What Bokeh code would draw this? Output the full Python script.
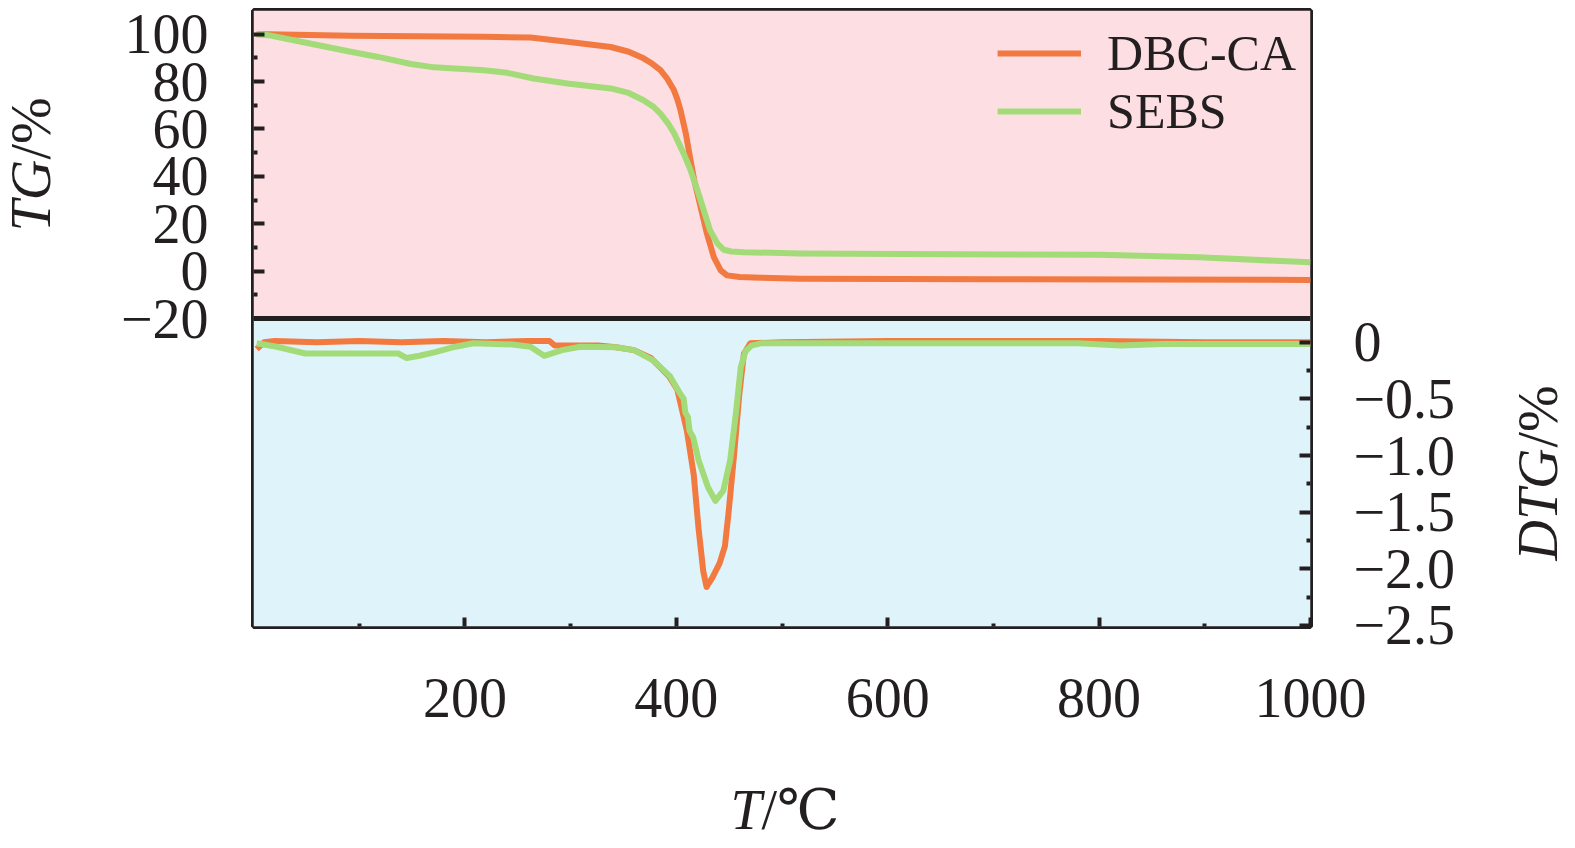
import math
from bokeh.plotting import figure
from bokeh.models import (Range1d, FixedTicker, CustomJSTickFormatter, Legend, LegendItem,
                          LinearAxis, BoxAnnotation, Span, Label)
from bokeh.embed import file_html
from bokeh.resources import INLINE

# ---------------- data ----------------
SERIES = ["DBC-CA", "SEBS"]

TG_T_DBC = [3, 14, 92, 218, 262, 297, 338, 355, 369, 377, 385, 391, 397.7, 401, 404, 409, 413.5,
            417, 423, 429, 435.5, 442, 448, 460, 480, 517, 700, 1000]
TG_DBC = [100.0, 100.0, 99.3, 98.9, 98.6, 96.8, 94.6, 92.6, 89.8, 87.6, 84.8, 81.5, 76.4, 72.5,
          67.9, 58.1, 46.8, 38.3, 27.0, 15.8, 5.9, 0.3, -1.8, -2.5, -2.8, -3.2, -3.4, -3.7]

TG_T_SEBS = [3, 14, 45, 92, 118, 149, 171, 218, 240, 265, 297, 338, 355, 369, 378, 385, 392, 398,
             407, 413.5, 420, 426, 432, 439, 445, 452, 464, 517, 612, 801, 895, 1000]
TG_SEBS = [100.0, 99.6, 96.8, 92.6, 90.4, 87.4, 86.0, 84.8, 83.7, 81.3, 79.2, 77.1, 75.2, 72.1,
           69.5, 66.5, 62.5, 58.1, 49.6, 42.6, 34.1, 25.7, 17.2, 11.6, 9.0, 8.3, 8.0, 7.4, 7.2,
           6.9, 5.8, 3.7]

DTG_T_DBC = [3, 10, 20, 60, 100, 140, 180, 220, 260, 280, 285, 290, 326, 343, 360, 376, 393,
             401, 410, 416.5, 421, 425.5, 428.6, 434, 441, 446, 449.5, 454.5, 459.5, 464, 470,
             500, 600, 700, 800, 900, 1000]
DTG_DBC = [-0.06, 0.0, 0.01, 0.0, 0.01, 0.0, 0.01, 0.0, 0.01, 0.01, -0.03, -0.03, -0.03, -0.045,
           -0.07, -0.14, -0.30, -0.42, -0.78, -1.17, -1.64, -2.02, -2.16, -2.08, -1.95, -1.80,
           -1.50, -1.01, -0.47, -0.10, -0.01, 0.0, 0.01, 0.01, 0.01, 0.0, 0.0]

DTG_T_SEBS = [3, 22, 49, 90, 137, 145, 157, 171, 191, 208, 245, 262, 275, 292, 309, 343, 360,
              378, 394, 404, 407, 408.5, 411, 412.5, 416, 421, 430, 437, 444.5, 451, 456.5, 461,
              465.5, 471, 480, 600, 700, 780, 820, 860, 1000]
DTG_SEBS = [-0.01, -0.04, -0.10, -0.10, -0.10, -0.14, -0.12, -0.09, -0.04, -0.01, -0.02, -0.04,
            -0.12, -0.07, -0.04, -0.045, -0.07, -0.16, -0.30, -0.46, -0.50, -0.62, -0.66, -0.78,
            -0.84, -1.04, -1.28, -1.40, -1.31, -1.04, -0.62, -0.22, -0.08, -0.03, -0.01, -0.01,
            -0.01, -0.01, -0.03, -0.015, -0.015]

X_TICKS = [200, 400, 600, 800, 1000]
X_LABELS = ["200", "400", "600", "800", "1000"]
X_MINOR = [100, 300, 500, 700, 900]

TG_TICKS = [-20, 0, 20, 40, 60, 80, 100]
TG_LABELS = ["\u221220", "0", "20", "40", "60", "80", "100"]
TG_MINOR = [-10, 10, 30, 50, 70, 90]

DTG_TICKS = [-2.5, -2.0, -1.5, -1.0, -0.5, 0]
DTG_LABELS = ["\u22122.5", "\u22122.0", "\u22121.5", "\u22121.0", "\u22120.5", "0"]
DTG_MINOR = [-2.25, -1.75, -1.25, -0.75, -0.25]

X_TITLE = ["T", "/\u2103"]     # italic symbol + upright unit
TG_TITLE = ["TG", "/%"]
DTG_TITLE = ["DTG", "/%"]

# ---------------- style / layout ----------------
FONT = "Liberation Serif, DejaVu Serif"
INK = "#231f20"
ORANGE = "#f27940"
GREEN = "#a3db79"
PINK = "#fcdee3"
CYAN = "#def4fa"
FS = "56px"

FL, FW, FT, FH = 253, 1057, 10, 616          # frame left/width/top/height in px
BOTTOM = 222
RIGHT = 265
X0, X1 = 0, 1000
TG0, TG1 = -150, 110                         # TG panel occupies the upper half (-20..110)
DT0, DT1 = -2.509, 2.927                     # DTG panel occupies the lower half (-2.509..0.209)
SPLIT = -20                                  # TG value at the panel boundary


def dx(px):
    return X0 + (px - FL) / FW * (X1 - X0)


def dy_tg(py):
    return TG1 - (py - FT) / FH * (TG1 - TG0)


def dy_dtg(py):
    return DT1 - (py - FT) / FH * (DT1 - DT0)


FMT_CODE = """
for (let i = 0; i < tv.length; i++) {
  if (Math.abs(tick - tv[i]) < 1e-6) { return tl[i]; }
}
return "";
"""


def style_axis(ax, ticks, labels, minor, major_in, minor_in, standoff):
    ax.ticker = FixedTicker(ticks=ticks, minor_ticks=minor)
    ax.formatter = CustomJSTickFormatter(args=dict(tv=ticks, tl=labels), code=FMT_CODE)
    ax.axis_line_color = None
    ax.major_tick_in = major_in
    ax.major_tick_out = 0
    ax.minor_tick_in = minor_in
    ax.minor_tick_out = 0
    ax.major_tick_line_color = INK
    ax.minor_tick_line_color = INK
    ax.major_tick_line_width = 4
    ax.minor_tick_line_width = 4
    ax.major_label_text_font = FONT
    ax.major_label_text_font_size = FS
    ax.major_label_text_color = INK
    ax.major_label_standoff = standoff


p = figure(frame_width=FW, frame_height=FH, x_range=Range1d(X0, X1), y_range=Range1d(TG0, TG1),
           output_backend="svg", toolbar_location=None,
           x_axis_location="below", y_axis_location="left",
           min_border_left=FL, min_border_right=RIGHT, min_border_top=FT,
           min_border_bottom=BOTTOM,
           background_fill_color="white", border_fill_color="white",
           outline_line_color=INK, outline_line_width=5)
p.extra_y_ranges = {"dtg": Range1d(DT0, DT1)}
p.grid.visible = False

# panel backgrounds and separator
p.add_layout(BoxAnnotation(bottom=SPLIT, top=TG1, fill_color=PINK, fill_alpha=1,
                           line_color=None, level="underlay"))
p.add_layout(BoxAnnotation(bottom=TG0, top=SPLIT, fill_color=CYAN, fill_alpha=1,
                           line_color=None, level="underlay"))
p.add_layout(Span(location=SPLIT, dimension="width", line_color=INK, line_width=5))

# curves
r1 = p.line(TG_T_DBC, TG_DBC, line_color=ORANGE, line_width=6, line_join="round")
r2 = p.line(TG_T_SEBS, TG_SEBS, line_color=GREEN, line_width=6, line_join="round")
p.line(DTG_T_DBC, DTG_DBC, line_color=ORANGE, line_width=6, line_join="round",
       y_range_name="dtg")
p.line(DTG_T_SEBS, DTG_SEBS, line_color=GREEN, line_width=6, line_join="round",
       y_range_name="dtg")

# axes
style_axis(p.yaxis[0], TG_TICKS, TG_LABELS, TG_MINOR, 11, 4, 45)
style_axis(p.xaxis[0], X_TICKS, X_LABELS, X_MINOR, 9, 3, 52)
ar = LinearAxis(y_range_name="dtg")
style_axis(ar, DTG_TICKS, DTG_LABELS, DTG_MINOR, 11, 4, 43)
p.add_layout(ar, "right")

# legend
legend = Legend(items=[LegendItem(label=SERIES[0], renderers=[r1]),
                       LegendItem(label=SERIES[1], renderers=[r2])],
                location="top_right", margin=14, padding=0, spacing=0,
                glyph_width=84, glyph_height=20, label_standoff=26,
                label_text_font=FONT, label_text_font_size="50px", label_text_color=INK,
                border_line_color=None, background_fill_alpha=0)
p.add_layout(legend)


# axis titles (symbol italic, unit upright) as labels held in side panels
def title_part(text, style, px, py, rng, angle, side):
    y = dy_dtg(py) if rng == "dtg" else dy_tg(py)
    p.add_layout(Label(x=dx(px), y=y, y_range_name=rng, text=text, angle=angle,
                       text_align="left", text_baseline="middle",
                       text_font=FONT, text_font_size=FS, text_font_style=style,
                       text_color=INK), side)


UP = math.pi / 2
title_part(TG_TITLE[0], "italic", 30, 231, "default", UP, "left")
title_part(TG_TITLE[1], "normal", 30, 231 - 72, "default", UP, "right")
title_part(DTG_TITLE[0], "italic", 1537, 560, "dtg", UP, "right")
title_part(DTG_TITLE[1], "normal", 1537, 560 - 113, "dtg", UP, "right")
title_part(X_TITLE[0], "italic", 730, 809, "default", 0, "right")
title_part(X_TITLE[1], "normal", 761, 809, "default", 0, "right")

open("out.html", "w").write(file_html(p, INLINE))
